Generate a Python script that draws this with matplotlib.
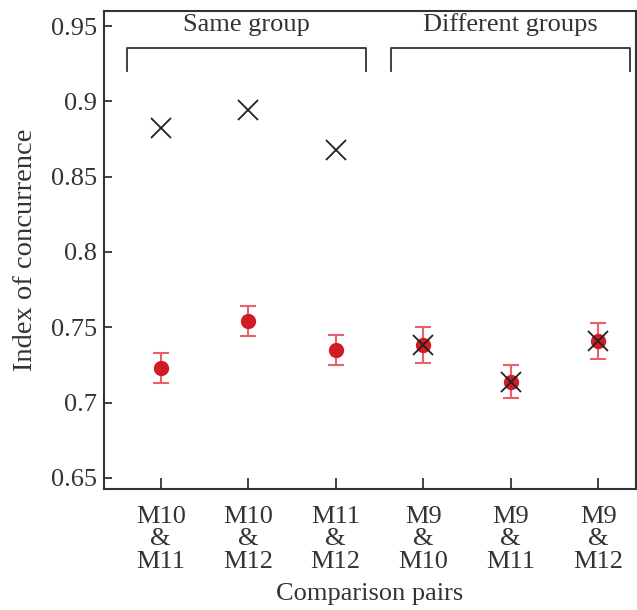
import matplotlib.pyplot as plt

pairs = ['M10\n&\nM11', 'M10\n&\nM12', 'M11\n&\nM12', 'M9\n&\nM10', 'M9\n&\nM11', 'M9\n&\nM12']
observed = [0.882, 0.894, 0.868, 0.738, 0.714, 0.741]
mean_idx = [0.723, 0.754, 0.735, 0.738, 0.714, 0.741]
err_idx = [0.010, 0.010, 0.010, 0.012, 0.011, 0.012]
group_names = ['Same group', 'Different groups']
group_spans = [(-0.38, 2.35), (2.63, 5.36)]

plt.rcParams['font.family'] = ['Liberation Serif', 'DejaVu Serif']
grey = '#333333'
fs = 19

fig = plt.figure(figsize=(6.37, 6.10), dpi=100)
ax = fig.add_axes([0.163, 0.198, 0.835, 0.784])

x = list(range(len(pairs)))
ax.errorbar(x, mean_idx, yerr=err_idx, fmt='o', color='#d01c24', ms=10,
            ecolor='#e8606a', elinewidth=1.5, capsize=6, capthick=1.5, zorder=2)
ax.plot(x, observed, 'x', color='#222222', ms=14, mew=1.3, ls='none', zorder=3)

# group brackets
for name, (a, b) in zip(group_names, group_spans):
    ax.plot([a, a, b, b], [0.9203, 0.9354, 0.9354, 0.9203], color=grey, lw=1.3,
            clip_on=False)
    ax.text((a + b) / 2, 0.951, name, ha='center', va='center', fontsize=fs,
            color=grey)

ax.set_xlim(-0.65, 5.43)
ax.set_ylim(0.6425, 0.96)
ax.set_xticks(x)
ax.set_xticklabels(pairs, fontsize=fs, color=grey, linespacing=1.03)
ax.set_yticks([0.65, 0.7, 0.75, 0.8, 0.85, 0.9, 0.95])
ax.set_yticklabels(['0.65', '0.7', '0.75', '0.8', '0.85', '0.9', '0.95'],
                   fontsize=fs, color=grey)
ax.tick_params(axis='x', direction='in', length=8, width=1.3, color=grey, pad=12)
ax.tick_params(axis='y', direction='in', length=6, width=1.3, color=grey, pad=5)
for s in ax.spines.values():
    s.set_color(grey)
    s.set_linewidth(1.5)

ax.set_xlabel('Comparison pairs', fontsize=fs, color=grey, labelpad=7)
ax.set_ylabel('Index of concurrence', fontsize=20.5, color=grey, labelpad=9)

plt.savefig('out.png', dpi=100)
